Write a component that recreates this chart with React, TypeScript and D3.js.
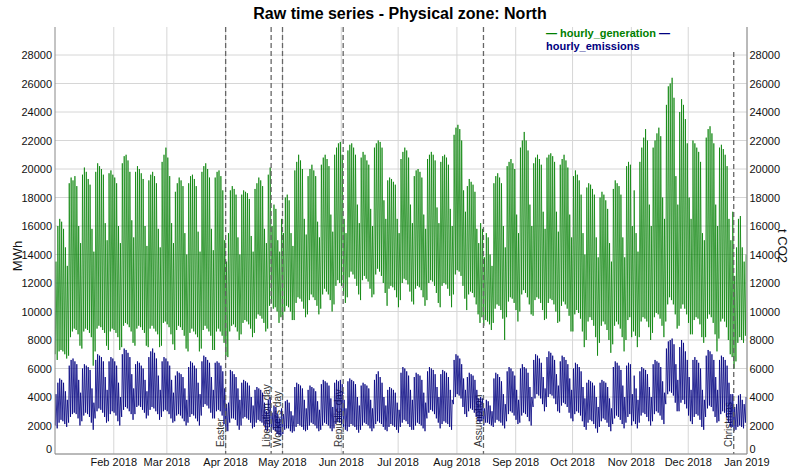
import React from "react";
import * as d3 from "d3";

// ---- Data (daily trough / daily peak), Mon..Sun per row, 2018 ----
const genPeak: number[] = [
  13500,16000,16500,16300,15800,14500,13200,
  19000,19400,19200,19500,18800,16000,14800,
  19600,20100,19800,19300,18900,15800,14200,
  19800,20400,20200,20000,19600,16200,15000,
  19700,19900,19600,19400,19000,16000,14800,
  20400,20900,21000,20600,19800,16400,15200,
  19800,20200,20000,19700,19300,16000,14600,
  19200,19600,19800,19500,19000,15800,14500,
  20500,21000,21500,20800,19500,16200,14800,
  18400,19000,19400,19200,18800,15500,14000,
  19000,19500,19600,19300,18800,15600,14200,
  19800,20200,20400,20000,19400,15800,14300,
  19400,19800,19900,19500,18500,15000,13500,
  15500,18500,18800,18600,18200,15200,14000,
  18200,18500,18400,18300,17900,15300,14200,
  18600,19000,19400,19200,18800,15800,14800,
  19600,20100,16000,17500,17200,15000,14200,
  16500,15500,18000,18200,17800,15500,14600,
  19900,20500,21000,20600,20000,16500,15400,
  19500,20000,20300,19900,19500,16300,15200,
  20300,20800,21000,20700,20200,16800,15600,
  21000,21500,21800,21900,21000,16500,15500,
  21300,21700,21800,21500,21000,17500,16200,
  20800,21200,21000,20600,20300,17200,16000,
  21500,21800,22000,21900,21500,17800,16500,
  19200,19400,19300,19100,18900,16500,15500,
  20700,21200,21500,21300,20800,17500,16200,
  19500,19900,20000,19800,19400,16800,15800,
  20700,21000,21200,21000,20600,17300,16200,
  20500,20900,21000,20800,20300,17200,16000,
  22400,22900,23100,22800,22000,18500,17000,
  18800,19300,19100,18900,18400,15800,14800,
  16200,15800,13800,15500,15200,14000,13200,
  19000,19500,19700,19400,19000,16000,14500,
  20200,20500,20700,20400,20000,16800,15500,
  21500,22000,22600,22000,21300,17500,16000,
  20400,20800,21000,20700,20300,17000,15800,
  20800,21000,21100,20900,20500,17000,15600,
  20300,20700,21000,20600,20100,16800,15200,
  19500,19900,19600,19200,18200,15500,14000,
  18700,19000,18900,18600,18200,15200,13800,
  18000,18400,18200,17800,17200,14800,13500,
  18600,19200,19000,18800,18200,15200,13800,
  20200,20500,20300,16000,18500,15500,14200,
  20500,21500,22200,22800,22000,17500,16000,
  21500,22000,22500,22900,22300,18000,16500,
  24500,25800,26000,26400,25000,19500,17500,
  24000,24900,24500,23500,21800,18000,16500,
  22000,21800,21500,21200,20500,15500,15000,
  22200,22800,23000,22500,21800,17500,16000,
  21500,21700,21400,21000,20200,16500,15000,
  17000,12500,14500,16500,16700,14500,13500,
  14000,
];

const genTrough: number[] = [
  7000,6600,7200,7300,7200,7000,6700,
  6900,8200,8600,8800,8700,8400,7600,
  7400,8600,8800,8700,8500,8200,6200,
  7200,8800,9000,8900,8700,8500,7600,
  7300,8600,8800,8700,8500,8200,7300,
  7500,9000,9200,9100,8900,8600,7800,
  7600,8800,9000,8900,8700,8500,7600,
  7500,8800,9000,8800,8600,8400,7500,
  7600,9200,9300,9100,8900,8400,7700,
  7300,8700,9000,8900,8700,8300,7400,
  7200,8500,8800,8600,8400,8200,7200,
  7400,8700,9000,8800,8600,8300,7300,
  7300,8600,8800,8600,8300,7800,6900,
  6800,8600,9000,9100,8900,8600,8000,
  8400,9200,9400,9300,9100,8800,8200,
  8500,9500,9800,9700,9500,9200,8600,
  8800,10400,10600,10200,10300,10000,9200,
  9600,9400,10000,10400,10300,10000,9400,
  9400,10600,11000,10900,10700,10200,9600,
  9800,10800,11200,11000,10800,10400,9800,
  10200,11200,11600,11400,11200,10800,10000,
  10500,11800,12200,12000,11800,11200,10600,
  11000,12400,12800,12600,12300,11800,11200,
  10800,12200,12500,12300,12100,11600,11000,
  11200,12600,13000,12800,12500,12000,11300,
  10400,11600,11800,11700,11500,11000,10300,
  10800,12000,12300,12200,11900,11400,10700,
  10500,11600,11800,11700,11500,11000,10400,
  10800,12000,12200,12100,11800,11300,10600,
  10300,11800,12000,11900,11600,11100,10300,
  11200,12600,12900,12800,12500,11800,10900,
  10100,11200,11400,11300,11000,10500,9800,
  9200,9600,9000,9400,9300,9100,8700,
  9200,10200,10500,10400,10100,9500,8000,
  9600,10700,11000,10900,10600,10100,9300,
  10000,11200,11500,11300,11000,10500,9800,
  9700,10800,11000,10900,10600,10100,9400,
  9500,10600,10900,10800,10500,10000,9200,
  9300,10400,10700,10500,10200,9700,8600,
  8600,9800,10100,9900,9500,8600,7500,
  8000,9300,9600,9400,9000,8200,6900,
  7800,9000,9300,9100,8700,8000,7100,
  7700,9000,9300,9100,8800,8200,7200,
  8000,9400,9600,8200,8600,8300,7500,
  8200,9300,9600,9500,9300,8900,8000,
  8500,9600,9900,9800,9500,9000,8200,
  9300,10500,11000,10800,10500,9800,8800,
  9000,10200,10500,10200,9800,9200,8400,
  8400,9400,9600,9500,9100,8200,7800,
  8200,9500,9800,9600,9200,8400,7200,
  8100,9300,9500,9300,8900,8000,7000,
  6800,6000,6500,7800,8200,8000,7800,
  8300,
];

const emiPeak: number[] = [
  4200,5000,5300,5200,5000,4400,3800,
  6200,6600,6700,6500,6300,5200,4300,
  6000,6300,6200,6100,5900,4600,3600,
  6600,7000,6900,6800,6500,5400,4500,
  6500,6800,6700,6500,6200,5000,4000,
  7000,7400,7300,7100,6800,5600,4600,
  6300,6500,6400,6200,6000,5200,4400,
  6800,7200,7400,7100,6700,5500,4500,
  6500,6800,6700,6500,6200,5200,4300,
  5500,5800,5700,5600,5400,4600,3800,
  6100,6500,6400,6200,6000,5000,4200,
  6500,6900,6800,6600,6400,5400,4500,
  6400,6500,6400,6200,5800,4600,3500,
  3600,5900,5800,5600,5400,4600,3800,
  5000,5200,5100,5000,4800,4000,3400,
  4500,4700,4600,4500,4300,3600,3000,
  3800,4000,2900,3400,3300,2800,2500,
  3200,2800,3700,3800,3600,3000,2700,
  4700,5000,4900,4800,4600,3800,3200,
  4500,4800,4700,4600,4400,3700,3100,
  4900,5200,5100,5000,4800,3900,3300,
  5000,5200,5100,5200,4900,3800,3200,
  5100,5300,5200,5100,4900,4000,3400,
  4800,5000,4900,4800,4600,3800,3200,
  5200,5600,5800,5400,5000,4000,3400,
  4500,4700,4600,4500,4300,3600,3100,
  5700,6100,6000,5800,5500,4500,3800,
  5400,5700,5600,5500,5200,4300,3600,
  5800,6100,6000,5900,5600,4700,4000,
  5600,5900,5800,5700,5400,4500,3800,
  6600,7000,6900,6700,6300,5300,4500,
  5400,5700,5600,5500,5200,4500,3900,
  4000,3900,3200,3800,3700,3400,3000,
  5300,5700,5600,5400,5100,4200,3500,
  5800,6100,6000,5800,5500,4500,3800,
  6000,6300,6100,6000,5700,4700,4000,
  6600,7000,6900,6700,6400,5400,4600,
  6800,7200,7100,6900,6600,5600,4800,
  6500,6900,6800,6600,6300,5300,4500,
  6000,6400,6300,6100,5800,4700,3900,
  5000,5200,5100,5000,4800,4000,3300,
  5000,5200,5100,5000,4700,3900,3200,
  6100,6500,6400,6200,5900,4800,4000,
  6200,6400,6300,4200,5500,4600,3800,
  5800,6100,6000,5900,5600,4700,4000,
  6300,6600,6500,6400,6100,5100,4300,
  7400,7900,8000,8100,7700,6300,5200,
  7500,8000,7800,7200,6600,5400,4500,
  6600,6800,6600,6400,6000,4500,3800,
  6900,7300,7200,7000,6600,5400,4500,
  6600,6900,6800,6600,6200,5000,4200,
  4200,3300,3500,4100,4200,3800,3500,
  4000,
];

const emiTrough: number[] = [
  2000,1800,2200,2400,2300,2100,1900,
  2200,2600,2800,2900,2800,2500,2000,
  2300,2700,2900,2800,2600,2200,1700,
  2500,3000,3200,3100,2900,2600,2200,
  2300,2800,3000,2900,2700,2300,2000,
  2600,3100,3300,3200,3000,2800,2400,
  2800,3300,3400,3300,3100,2900,2500,
  2700,3100,3300,3200,3000,2800,2400,
  2600,3000,3100,3000,2800,2500,2200,
  2300,2700,2800,2700,2500,2300,2000,
  2200,2600,2800,2700,2500,2300,2000,
  2700,3300,3500,3400,3200,2900,2500,
  2500,3000,3100,3000,2700,2100,1600,
  1600,2200,2500,2500,2400,2000,1700,
  2000,2500,2600,2500,2400,2200,1800,
  1900,2200,2400,2300,2200,2000,1700,
  1600,1900,1500,1700,1600,1400,1300,
  1300,1400,1700,1800,1800,1600,1500,
  1600,1900,2100,2000,1900,1700,1600,
  1700,2000,2200,2100,2000,1800,1600,
  1700,2000,2200,2100,2000,1800,1600,
  1800,2100,2300,2200,2100,1900,1700,
  1600,1900,2100,2000,1900,1700,1500,
  1700,2000,2200,2100,2000,1800,1600,
  1800,2100,2300,2200,2100,1900,1700,
  1600,1900,2100,2000,1900,1700,1500,
  1900,2200,2400,2300,2100,1900,1700,
  1700,2000,2200,2100,2000,1800,1600,
  2500,2900,3100,3000,2800,2500,2200,
  1800,2100,2300,2200,2100,1900,1700,
  3500,4000,4200,4100,3900,3300,2800,
  2600,3000,3200,3100,2900,2600,2300,
  2200,2300,2000,2200,2200,2100,2000,
  1900,2200,2400,2300,2200,2000,1800,
  2300,2800,3000,2900,2700,2400,2100,
  2200,2700,2900,2800,2600,2300,2000,
  3300,3900,4200,4100,3900,3500,3000,
  3300,4000,4200,4100,3900,3500,3000,
  2900,3400,3600,3500,3300,2900,2500,
  2300,2800,3000,2900,2700,2300,1900,
  1700,2200,2400,2300,2100,1800,1500,
  1900,2300,2500,2400,2200,1900,1600,
  2100,2500,2700,2600,2400,2100,1800,
  2200,2600,2800,2000,2300,2100,1800,
  2200,2700,2900,2800,2600,2300,2000,
  2300,2800,3000,2900,2700,2400,2100,
  3500,4200,4400,4300,4100,3600,3000,
  3000,3600,3800,3500,3200,2700,2300,
  2100,2600,2800,2700,2400,1900,1700,
  2600,3200,3400,3300,3000,2600,2200,
  2300,2800,3000,2900,2600,2200,1900,
  1900,1600,1700,1900,2000,1900,1800,
  2200,
];

const yTicks: number[] = [0, 2000, 4000, 6000, 8000, 10000, 12000, 14000, 16000, 18000, 20000, 22000, 24000, 26000, 28000];

const eventDates: string[] = ["2018-04-01", "2018-04-25", "2018-05-01", "2018-06-02", "2018-08-15", "2018-12-25"];
const eventLabels: string[] = ["Easter", "Liberation day", "Workers day", "Republic day", "Assumption", "Christmas"];

const TITLE = "Raw time series - Physical zone: North";
const SERIES_NAMES = ["hourly_generation", "hourly_emissions"];

// ---- layout ----
const W = 792, H = 472;
const L = 55, R = 747, T = 27, B = 454;
const GREEN = "#008000";
const NAVY = "#000080";
const FONT = "'Liberation Sans', Arial, Helvetica, sans-serif";

const HOUR = 3600000;
const DAY = 24 * HOUR;
const start = Date.UTC(2018, 0, 1);

function buildPoints(trough: number[], peak: number[]) {
  const pts: { t: Date; v: number }[] = [];
  for (let i = 0; i < peak.length; i++) {
    pts.push({ t: new Date(start + i * DAY + 4 * HOUR), v: trough[i] });
    pts.push({ t: new Date(start + i * DAY + 12 * HOUR), v: peak[i] });
  }
  return pts;
}

export default function App() {
  const x = d3.scaleUtc().domain([new Date(start), new Date(Date.UTC(2019, 0, 1))]).range([L, R]);
  const y = d3.scaleLinear().domain([0, 30000]).range([B, 26.5]);

  const line = d3
    .line<{ t: Date; v: number }>()
    .x((d) => x(d.t))
    .y((d) => y(d.v));

  const genPath = line(buildPoints(genTrough, genPeak)) || "";
  const emiPath = line(buildPoints(emiTrough, emiPeak)) || "";

  const monthTicks = d3.utcMonth.range(new Date(Date.UTC(2018, 1, 1)), new Date(Date.UTC(2019, 0, 2)));
  const fmt = d3.utcFormat("%b %Y");

  const events = eventDates.map((s, i) => ({ t: new Date(s + "T00:00:00Z"), label: eventLabels[i] }));

  return (
    <svg width={W} height={H} style={{ position: "absolute", left: 0, top: 0, background: "#fff" }} fontFamily={FONT}>
      <rect x={0} y={0} width={W} height={H} fill="#fff" />
      {/* title */}
      <text x={400} y={19} textAnchor="middle" fontSize={16} fontWeight="bold" fill="#000">
        {TITLE}
      </text>

      {/* horizontal grid */}
      {yTicks.map((v) => (
        <line key={"hg" + v} x1={L} x2={R} y1={y(v)} y2={y(v)} stroke="#d6d6d6" strokeWidth={1} />
      ))}
      {/* vertical grid */}
      {monthTicks.map((m) => (
        <line key={"vg" + m.getTime()} x1={x(m)} x2={x(m)} y1={T} y2={B} stroke="#d6d6d6" strokeWidth={1} />
      ))}

      {/* event labels (under series) */}
      {events.map((e) => (
        <text
          key={"el" + e.label}
          transform={`translate(${x(e.t) - 1.5},${B - 7}) rotate(-90)`}
          fontSize={10}
          fill="#333"
        >
          {e.label}
        </text>
      ))}

      {/* series */}
      <path d={genPath} fill="none" stroke={GREEN} strokeWidth={1} strokeOpacity={0.72} />
      <path d={emiPath} fill="none" stroke={NAVY} strokeWidth={1} strokeOpacity={0.8} />

      {/* event lines */}
      {events.map((e, i) => (
        <line
          key={"ev" + e.label}
          x1={x(e.t)}
          x2={x(e.t)}
          y1={i === events.length - 1 ? 52 : T}
          y2={B}
          stroke="#666"
          strokeWidth={1.3}
          strokeDasharray="5,3"
        />
      ))}

      {/* axes lines */}
      <line x1={L} x2={L} y1={T} y2={B} stroke="#888" strokeWidth={1} />
      <line x1={R} x2={R} y1={T} y2={B} stroke="#888" strokeWidth={1} />
      <line x1={L} x2={R} y1={B} y2={B} stroke="#888" strokeWidth={1} />

      {/* y tick labels left and right */}
      {yTicks.map((v) => (
        <text key={"yl" + v} x={52} y={(v === 0 ? y(v) - 5 : y(v)) + 4} textAnchor="end" fontSize={11} fill="#111">
          {v}
        </text>
      ))}
      {yTicks.map((v) => (
        <text key={"yr" + v} x={749.5} y={(v === 0 ? y(v) - 5 : y(v)) + 4} textAnchor="start" fontSize={11} fill="#111">
          {v}
        </text>
      ))}

      {/* x tick labels */}
      {monthTicks.map((m) => (
        <text key={"xl" + m.getTime()} x={x(m)} y={466} textAnchor="middle" fontSize={11} fill="#111">
          {fmt(m)}
        </text>
      ))}

      {/* axis titles */}
      <text transform="translate(22,256) rotate(-90)" textAnchor="middle" fontSize={13} fill="#111">
        MWh
      </text>
      <text transform="translate(778,246) rotate(90)" textAnchor="middle" fontSize={13} fill="#111">
        t CO2
      </text>

      {/* legend */}
      <text x={546} y={37} fontSize={11} fontWeight="bold">
        <tspan fill={GREEN}>{"— " + SERIES_NAMES[0]}</tspan>
        <tspan fill={NAVY}>{" —"}</tspan>
      </text>
      <text x={546} y={50} fontSize={11} fontWeight="bold" fill={NAVY}>
        {SERIES_NAMES[1]}
      </text>
    </svg>
  );
}
